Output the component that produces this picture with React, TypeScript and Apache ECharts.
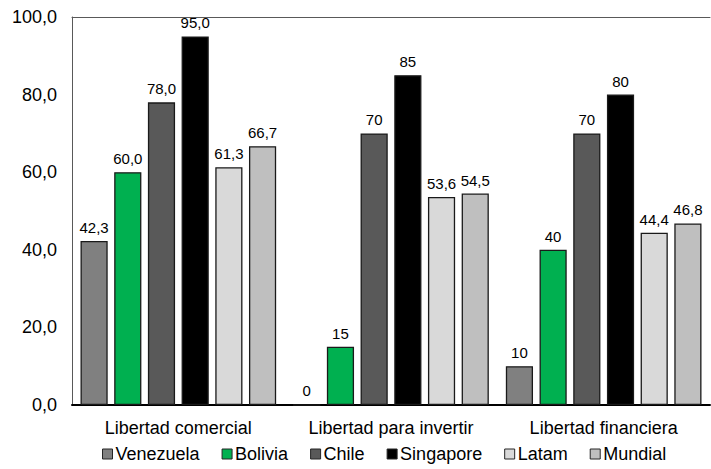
import React, { useEffect, useRef } from "react";
import * as echarts from "echarts";

const categories = ["Libertad comercial", "Libertad para invertir", "Libertad financiera"];
const seriesNames = ["Venezuela", "Bolivia", "Chile", "Singapore", "Latam", "Mundial"];
const venezuela = [42.3, 0, 10];
const bolivia = [60.0, 15, 40];
const chile = [78.0, 70, 70];
const singapore = [95.0, 85, 80];
const latam = [61.3, 53.6, 44.4];
const mundial = [66.7, 54.5, 46.8];
const seriesValues = [venezuela, bolivia, chile, singapore, latam, mundial];
const seriesColors = ["#808080", "#00B050", "#595959", "#000000", "#D9D9D9", "#BFBFBF"];

const FONT = "Liberation Sans";

export default function App() {
  const ref = useRef<HTMLDivElement>(null);
  useEffect(() => {
    if (!ref.current) return;
    const chart = echarts.init(ref.current, null, { renderer: "svg" });
    const fmtLabel = (p: any) => {
      const v = p.value as number;
      if (p.dataIndex === 0) return v.toFixed(1).replace(".", ",");
      return String(v).replace(".", ",");
    };
    chart.setOption({
      animation: false,
      textStyle: { fontFamily: FONT },
      grid: { left: 72, right: 1, top: 17, bottom: 64 },
      legend: {
        bottom: 1,
        left: 97,
        icon: "rect",
        itemWidth: 10,
        itemHeight: 10,
        itemGap: 22,
        textStyle: { fontFamily: FONT, fontSize: 18, color: "#000", padding: [0, 0, 0, -2] },
        itemStyle: { borderColor: "#262626", borderWidth: 1 },
        data: seriesNames,
      },
      xAxis: [
        {
          type: "category",
          data: categories,
          axisLine: { show: true, lineStyle: { color: "#000", width: 2 } },
          axisTick: { show: false },
          axisLabel: { fontFamily: FONT, fontSize: 18, color: "#000", margin: 14, interval: 0 },
        },
        {
          type: "category",
          position: "top",
          data: categories,
          axisLine: { show: true, lineStyle: { color: "#595959", width: 1 } },
          axisTick: { show: false },
          axisLabel: { show: false },
        },
      ],
      yAxis: {
        type: "value",
        min: 0,
        max: 100,
        interval: 20,
        splitLine: { show: false },
        axisTick: { show: false },
        axisLine: { show: true, lineStyle: { color: "#595959", width: 1 } },
        axisLabel: {
          fontFamily: FONT,
          fontSize: 18,
          color: "#000",
          margin: 15,
          formatter: (v: number) => v.toFixed(1).replace(".", ","),
        },
      },
      series: seriesNames.map((name, i) => ({
        name,
        type: "bar",
        xAxisIndex: 0,
        data: seriesValues[i],
        barGap: "24%",
        barCategoryGap: "8%",
        itemStyle: { color: seriesColors[i], borderColor: "#1a1a1a", borderWidth: 1.3 },
        label: {
          show: true,
          position: "top",
          distance: 6,
          fontFamily: FONT,
          fontSize: 15,
          color: "#000",
          formatter: fmtLabel,
        },
      })),
    });
    return () => chart.dispose();
  }, []);
  return (
    <div
      ref={ref}
      style={{ position: "fixed", left: 0, top: 0, width: 711, height: 469, background: "#fff" }}
    />
  );
}
